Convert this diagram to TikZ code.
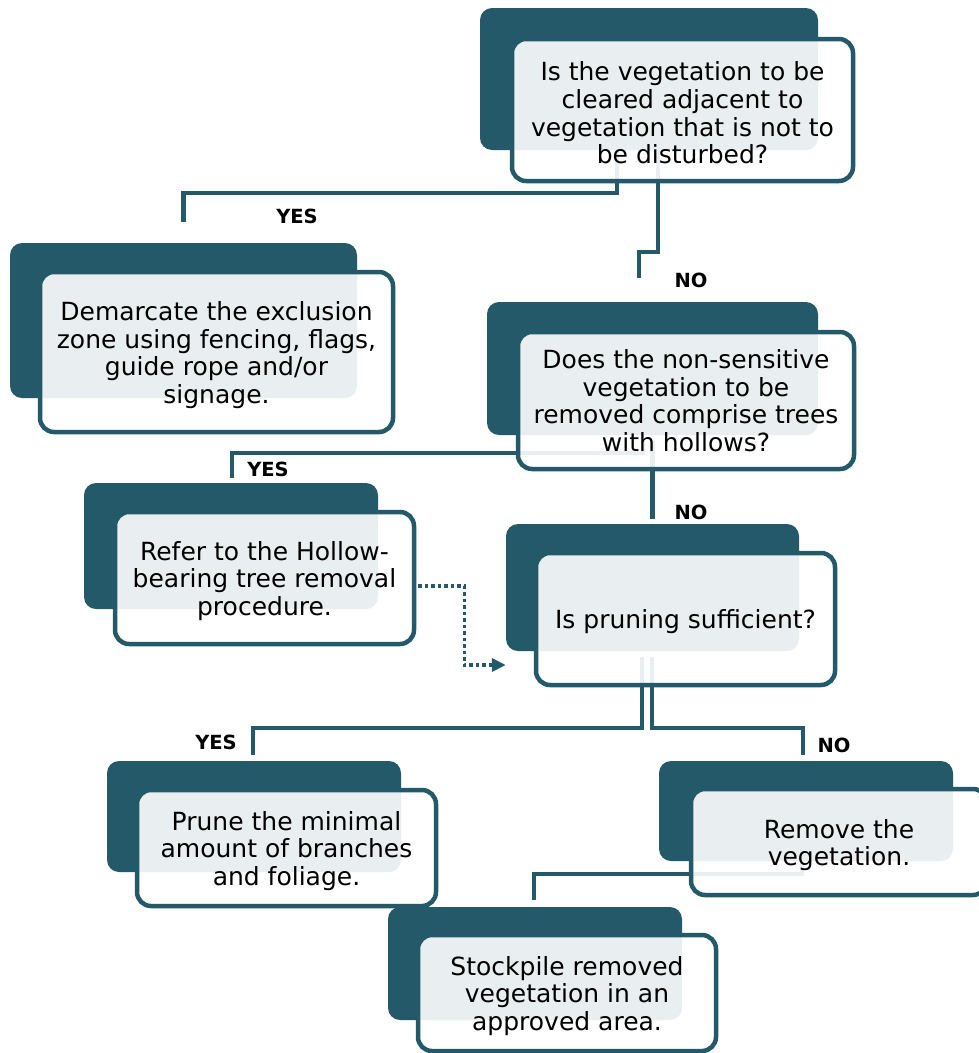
\documentclass[tikz,border=0pt]{standalone}
\usepackage{fontspec}
\setmainfont{DejaVu Sans}
\usetikzlibrary{arrows.meta,calc}
\definecolor{tealdark}{HTML}{235968}
\pgfdeclarelayer{backlayer}
\pgfdeclarelayer{connlayer}
\pgfsetlayers{backlayer,connlayer,main}
\newcommand\firstline{\rule{0pt}{25pt}}
\begin{document}
\begin{tikzpicture}[x=1pt,y=-1pt,
  backbox/.style={fill=tealdark, rounded corners=12pt, inner sep=0pt},
  frontbox/.style={draw=tealdark, line width=4.5pt, fill=white, fill opacity=0.9, text opacity=1,
     rounded corners=14pt, inner sep=0pt, align=center, text=black,
     font=\fontsize{25}{27.6}\selectfont},
  conn/.style={draw=tealdark, line width=4.5pt},
  dotconn/.style={draw=tealdark, line width=3.5pt, dash pattern=on 3.5pt off 3pt,
     -{Triangle[length=14pt,width=13pt,fill=tealdark]}},
  lbl/.style={font=\fontsize{19.5}{22}\selectfont\bfseries, text=black, inner sep=0pt}
]
\useasboundingbox (0,0) rectangle (979,1053);

% front boxes (main layer)
\node[frontbox, minimum width=341pt, minimum height=142pt] (Af) at (682.5,110)
  {\firstline Is the vegetation to be\\cleared adjacent to\\vegetation that is not to\\be disturbed?};
\node[frontbox, minimum width=353pt, minimum height=160pt] (Bf) at (216.5,352)
  {\firstline Demarcate the exclusion\\zone using fencing, flags,\\guide rope and/or\\signage.};
\node[frontbox, minimum width=336pt, minimum height=137pt] (Cf) at (686,400.5)
  {Does the non-sensitive\\vegetation to be\\removed comprise trees\\with hollows?};
\node[frontbox, minimum width=299pt, minimum height=132pt] (Df) at (264.5,578)
  {\firstline Refer to the Hollow-\\bearing tree removal\\procedure.};
\node[frontbox, minimum width=299pt, minimum height=132pt] (Ef) at (685.5,619)
  {\firstline Is pruning sufficient?};
\node[frontbox, minimum width=299pt, minimum height=116pt] (Ff) at (286.5,848)
  {\firstline Prune the minimal\\amount of branches\\and foliage.};
\node[frontbox, minimum width=296pt, minimum height=106pt] (Gf) at (839,842)
  {\firstline Remove the\\vegetation.};
\node[frontbox, minimum width=298pt, minimum height=116pt] (Hf) at (567,993)
  {\firstline Stockpile removed\\vegetation in an\\approved area.};

% back boxes
\begin{pgfonlayer}{backlayer}
\node[backbox, minimum width=338pt, minimum height=142pt] (Ab) at (649,79) {};
\node[backbox, minimum width=347pt, minimum height=155pt] (Bb) at (183.5,320.5) {};
\node[backbox, minimum width=331pt, minimum height=133pt] (Cb) at (652.5,368.5) {};
\node[backbox, minimum width=294pt, minimum height=126pt] (Db) at (231,546) {};
\node[backbox, minimum width=293pt, minimum height=127pt] (Eb) at (652.5,587.5) {};
\node[backbox, minimum width=294pt, minimum height=111pt] (Fb) at (254,816.5) {};
\node[backbox, minimum width=294pt, minimum height=100pt] (Gb) at (806,811) {};
\node[backbox, minimum width=294pt, minimum height=113pt] (Hb) at (535,963.5) {};
\end{pgfonlayer}

% connectors
\begin{pgfonlayer}{connlayer}
\draw[conn] ($(Af.south)+(-65.5,-40)$) |- ($(Bb.north)+(0,-50)$) -- ($(Bb.north)+(0,-21)$);
\draw[conn] ($(Af.south)+(-24.5,-40)$) |- ($(Cb.north)+(-13.5,-50)$) -- ($(Cb.north)+(-13.5,-24)$);
\draw[conn] ($(Cf.south)+(-43,-30)$) |- ($(Db.north)+(1,-30)$) -- ($(Db.north)+(1,-5)$);
\draw[conn] ($(Cf.south)+(-33.5,-30)$) -- ($(Eb.north)+(0,-5)$);
\draw[conn] ($(Ef.south)+(-43.5,-30)$) |- ($(Fb.north)+(-1,-33)$) -- ($(Fb.north)+(-1,-6)$);
\draw[conn] ($(Ef.south)+(-33.5,-30)$) |- ($(Gb.north)+(-3,-33)$) -- ($(Gb.north)+(-3,-6)$);
\draw[conn] ($(Gf.south)+(-37,-50)$) |- ($(Hb.north)+(-1,-33)$) -- ($(Hb.north)+(-1,-7)$);
\draw[dotconn] ($(Df.east)+(2,8)$) -- ++(46,0) |- ($(Eb.west)+(0,77.5)$);
\end{pgfonlayer}

% labels
\node[lbl] (yes1) at (297,216.5) {YES};
\node[lbl] (no1) at (691,280) {NO};
\node[lbl] (yes2) at (268,469) {YES};
\node[lbl] (no2) at (691,512) {NO};
\node[lbl] (yes3) at (216,742) {YES};
\node[lbl] (no3) at (834,745) {NO};
\end{tikzpicture}
\end{document}
